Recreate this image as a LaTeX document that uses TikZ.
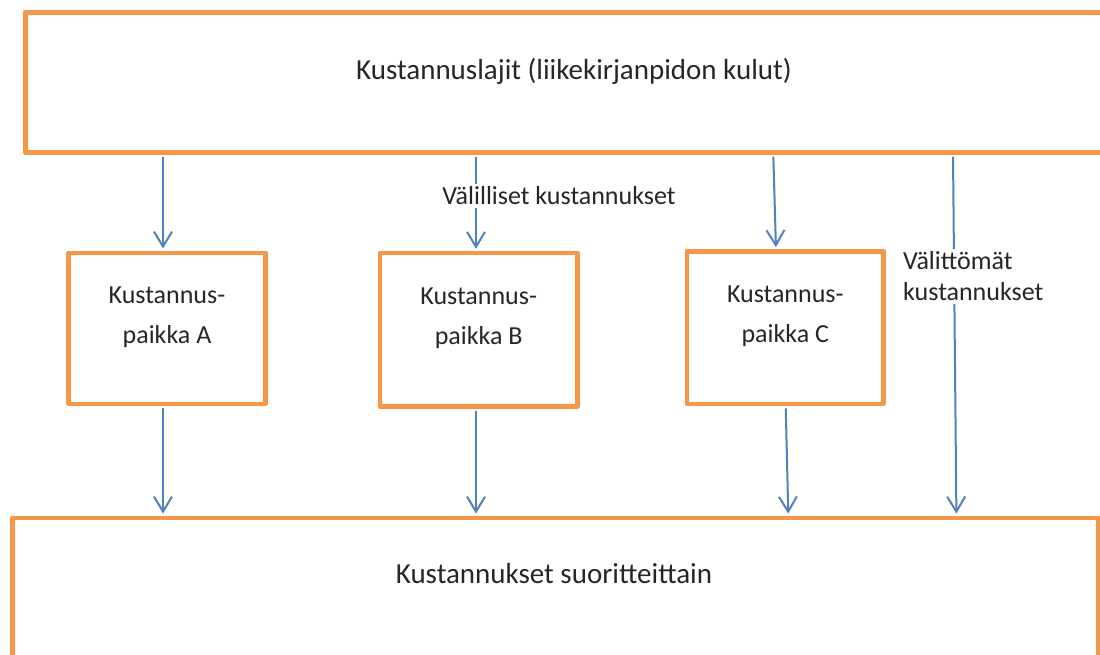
\documentclass[tikz,border=0pt]{standalone}
\usepackage{fontspec}
\setmainfont{Carlito}
\usetikzlibrary{arrows.meta, positioning, calc}
\definecolor{costorange}{RGB}{247,150,70}
\definecolor{flowblue}{RGB}{79,129,189}
\definecolor{inktext}{RGB}{38,38,38}
\tikzset{
  costbox/.style={draw=costorange, line width=4.5pt, line join=round, inner sep=0pt},
  bigtext/.style={font=\fontsize{29}{35}\selectfont, text=inktext, inner sep=0pt},
  boxtext/.style={font=\fontsize{26}{40}\selectfont, text=inktext, align=center, inner sep=0pt},
  flowlabel/.style={font=\fontsize{26}{31}\selectfont, text=inktext, fill=white, inner sep=3pt},
  flow/.style={-{Straight Barb[length=15pt,width=18pt]}, line width=2pt, flowblue, shorten <=2pt, shorten >=2pt},
}

\begin{document}
\begin{tikzpicture}[x=1pt, y=-1pt]
  \useasboundingbox (0,0) rectangle (1100,655);
  % boxes
  \node[costbox, minimum width=1095pt, minimum height=140pt] (laji) at (573,82.5) {};
  \node[costbox, minimum width=1086pt, minimum height=202pt] (suor) at (555.4,618.8) {};
  \node[costbox, minimum width=196.6pt, minimum height=151pt] (pa) at (167,328.3) {};
  \node[costbox, minimum width=197.3pt, minimum height=153.3pt] (pb) at (478.7,329.7) {};
  \node[costbox, minimum width=196.7pt, minimum height=152.7pt] (pc) at (785.3,327.7) {};
  % texts
  \node[bigtext, anchor=base] (lajitxt) at ([xshift=1pt, yshift=2.5pt]laji.center) {Kustannuslajit (liikekirjanpidon kulut)};
  \node[bigtext, anchor=base] (suortxt) at ([xshift=-1.4pt, yshift=35.8pt]suor.center) {Kustannukset suoritteittain};
  \node[boxtext] (patxt) at ([yshift=11pt]pa.center) {Kustannus-\\paikka A};
  \node[boxtext] (pbtxt) at ([yshift=11pt]pb.center) {Kustannus-\\paikka B};
  \node[boxtext] (pctxt) at ([yshift=11pt]pc.center) {Kustannus-\\paikka C};
  % arrows
  \draw[flow] ([xshift=-4pt]pa.north |- laji.south) -- ([xshift=-4pt]pa.north);
  \draw[flow] ([xshift=-2.7pt]pb.north |- laji.south) -- ([xshift=-2.7pt]pb.north);
  \draw[flow] ([xshift=-12pt]pc.north |- laji.south) -- ([xshift=-9.3pt]pc.north);
  \draw[flow] ([xshift=-4pt]pa.south) -- ([xshift=-4pt]pa.south |- suor.north);
  \draw[flow] ([xshift=-2.7pt]pb.south) -- ([xshift=-2.7pt]pb.south |- suor.north);
  \draw[flow] ([xshift=0.4pt]pc.south) -- ([xshift=3pt]pc.south |- suor.north);
  \draw[flow] ([xshift=380pt]laji.south) -- ([xshift=401pt]suor.north);
  % labels
  \node[flowlabel, anchor=base] (vali) at (559,205) {Välilliset kustannukset};
  \node[flowlabel, align=left, anchor=north west] (valit) at (900,248.5) {Välittömät\\kustannukset};
\end{tikzpicture}
\end{document}
